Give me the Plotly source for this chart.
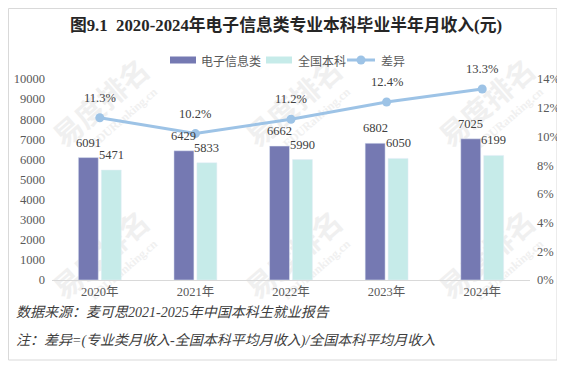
import plotly.graph_objects as go

years = ["2020年", "2021年", "2022年", "2023年", "2024年"]
major_income = [6091, 6429, 6662, 6802, 7025]
national_income = [5471, 5833, 5990, 6050, 6199]
diff_pct = [11.3, 10.2, 11.2, 12.4, 13.3]
series_names = ["电子信息类", "全国本科", "差异"]

title_text = "图9.1  2020-2024年电子信息类专业本科毕业半年月收入(元)"
source_text = "数据来源：麦可思2021-2025年中国本科生就业报告"
note_text = "注：差异=(专业类月收入-全国本科平均月收入)/全国本科平均月收入"

PURPLE = "#7579B2"
CYAN = "#C6EBE9"
LINE = "#9DC3E6"
WM = "#F0F0F0"
FONT = "Liberation Serif, Noto Sans CJK SC, serif"
CJK = "Noto Sans CJK SC, sans-serif"

# page body has an 8px margin: figure origin sits at screen (8, 8)
OFF = 8
W, H = 565 - OFF, 368 - OFF
L, R, T, B = 52 - OFF, 35, 79 - OFF, 88
pw, ph = W - L - R, H - T - B

def px(xs):
    return (xs - OFF - L) / pw

def py(ys):
    return (H - B - (ys - OFF)) / ph

fig = go.Figure()
fig.add_trace(go.Bar(name=series_names[0], x=years, y=major_income, marker_color=PURPLE))
fig.add_trace(go.Bar(name=series_names[1], x=years, y=national_income, marker_color=CYAN))
fig.add_trace(go.Scatter(name=series_names[2], x=years, y=[v / 100 for v in diff_pct], yaxis="y2",
                         mode="lines+markers", line=dict(color=LINE, width=3),
                         marker=dict(color=LINE, size=9)))

lab_font = dict(family=FONT, size=12.5, color="#404040")
ann = []
for yr, a, b, d in zip(years, major_income, national_income, diff_pct):
    ann.append(dict(x=yr, y=a, xref="x", yref="y", text=str(a), showarrow=False,
                    xshift=-11.5, yshift=15, font=lab_font))
    ann.append(dict(x=yr, y=b, xref="x", yref="y", text=str(b), showarrow=False,
                    xshift=11.5, yshift=15, font=lab_font))
    ann.append(dict(x=yr, y=d / 100, xref="x", yref="y2", text=f"{d:.1f}%", showarrow=False,
                    yshift=20, font=lab_font))

foot_font = dict(family=FONT, size=14, color="#404040")
ann.append(dict(x=px(14), y=py(312), xref="paper", yref="paper", text="<i>" + source_text + "</i>",
                showarrow=False, xanchor="left", yanchor="middle", font=foot_font))
ann.append(dict(x=px(14), y=py(341), xref="paper", yref="paper", text="<i>" + note_text + "</i>",
                showarrow=False, xanchor="left", yanchor="middle", font=foot_font))

# manual legend (wide bar swatches like the reference)
leg_font = dict(family=CJK, size=12, color="#595959")
LY = 60
shapes = []
shapes.append(dict(type="rect", xref="paper", yref="paper", x0=px(170), x1=px(196),
                   y0=py(LY + 3.5), y1=py(LY - 3.5), line=dict(width=0), fillcolor=PURPLE))
shapes.append(dict(type="rect", xref="paper", yref="paper", x0=px(266), x1=px(292),
                   y0=py(LY + 3.5), y1=py(LY - 3.5), line=dict(width=0), fillcolor=CYAN))
shapes.append(dict(type="line", xref="paper", yref="paper", x0=px(347), x1=px(375),
                   y0=py(LY), y1=py(LY), line=dict(width=3, color=LINE)))
shapes.append(dict(type="circle", xref="paper", yref="paper", x0=px(356.5), x1=px(365.5),
                   y0=py(LY + 4.5), y1=py(LY - 4.5), line=dict(width=0), fillcolor=LINE))
for xs, name in zip([199, 296, 379], series_names):
    ann.append(dict(x=px(xs), y=py(LY), xref="paper", yref="paper", text=name, showarrow=False,
                    xanchor="left", yanchor="middle", font=leg_font))

# faint background watermarks
for cx in [103, 296, 489]:
    for cy in [105, 257]:
        shapes.append(dict(type="rect", xref="paper", yref="paper", layer="below",
                           x0=px(cx - 60), x1=px(cx + 60), y0=py(cy + 20), y1=py(cy - 20),
                           line=dict(width=0), fillcolor="rgba(0,0,0,0)",
                           label=dict(text="<b>易度排名</b>", textangle=-41,
                                      font=dict(family=CJK, size=29, color=WM))))
        shapes.append(dict(type="rect", xref="paper", yref="paper", layer="below",
                           x0=px(cx - 30), x1=px(cx + 70), y0=py(cy + 22), y1=py(cy + 2),
                           line=dict(width=0), fillcolor="rgba(0,0,0,0)",
                           label=dict(text="<b>EDURanking.cn</b>", textangle=-41,
                                      font=dict(family=FONT, size=12, color=WM))))

shapes.append(dict(type="rect", xref="paper", yref="paper", x0=px(8.5), x1=px(557),
                   y0=py(360), y1=py(8.5), line=dict(color="#D9D9D9", width=1), layer="below"))

fig.update_layout(
    width=W, height=H,
    margin=dict(l=L, r=R, t=T, b=B, autoexpand=False),
    paper_bgcolor="white", plot_bgcolor="rgba(0,0,0,0)",
    showlegend=False,
    barmode="group", bargap=0.52, bargroupgap=0.13,
    title=dict(text="<b>" + title_text + "</b>", x=px(286), xref="paper", xanchor="center",
               y=1 - (25 - OFF) / H, yanchor="middle", yref="container",
               font=dict(family=FONT, size=16.8, color="#262626")),
    xaxis=dict(showline=True, linecolor="#D9D9D9", linewidth=1, showgrid=False,
               tickfont=dict(family=FONT, size=12.5, color="#595959"), ticks=""),
    yaxis=dict(range=[0, 10000], dtick=1000, tickformat="d", showgrid=False, zeroline=False,
               tickfont=dict(family=FONT, size=12.5, color="#595959"), ticks="",
               ticklabelstandoff=6),
    yaxis2=dict(range=[0, 0.14], dtick=0.02, tickformat=".0%", overlaying="y", side="right",
                showgrid=False, zeroline=False, ticks="",
                tickfont=dict(family=FONT, size=12.5, color="#595959"), ticklabelstandoff=6),
    annotations=ann,
    shapes=shapes,
)

fig.write_html("out.html")
